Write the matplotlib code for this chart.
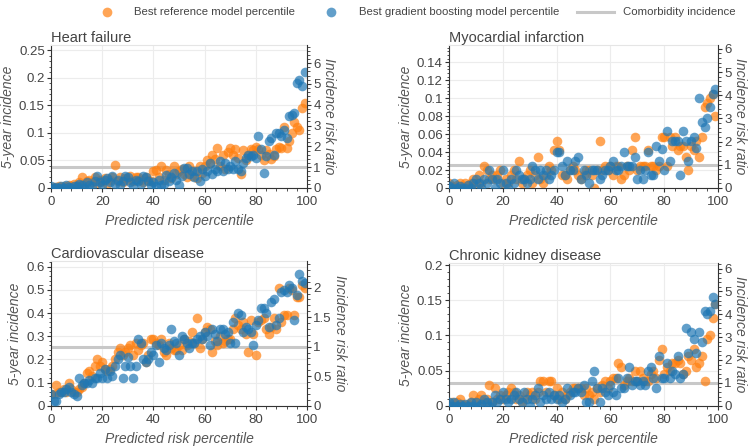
import numpy as np
import matplotlib
matplotlib.use('Agg')
import matplotlib.pyplot as plt
from matplotlib.ticker import MultipleLocator, FuncFormatter
from matplotlib.lines import Line2D

plt.rcParams['font.family'] = ['Liberation Sans', 'DejaVu Sans']

percentile = np.arange(100)

# heart failure
hf_gb = [0.003, 0.0, 0.002, 0.0, 0.003, 0.0, 0.005, 0.002, 0.0, 0.004,
         0.003, 0.008, 0.005, 0.0, 0.01, 0.006, 0.004, 0.012, 0.022, 0.01,
         0.006, 0.014, 0.018, 0.01, 0.022, 0.008, 0.015, 0.005, 0.012, 0.022,
         0.02, 0.01, 0.004, 0.015, 0.012, 0.008, 0.022, 0.02, 0.012, 0.006,
         0.01, 0.003, 0.015, 0.006, 0.008, 0.024, 0.012, 0.02, 0.028, 0.015,
         0.005, 0.022, 0.036, 0.037, 0.025, 0.03, 0.02, 0.03, 0.012, 0.035,
         0.022, 0.03, 0.045, 0.025, 0.035, 0.03, 0.048, 0.03, 0.045, 0.035,
         0.04, 0.035, 0.048, 0.035, 0.03, 0.045, 0.055, 0.06, 0.058, 0.06,
         0.055, 0.095, 0.07, 0.027, 0.058, 0.085, 0.09, 0.06, 0.1, 0.1,
         0.095, 0.105, 0.09, 0.13, 0.132, 0.135, 0.19, 0.195, 0.185, 0.21]
hf_ref = [0.0, 0.002, 0.0, 0.004, 0.0, 0.003, 0.002, 0.006, 0.004, 0.008,
          0.006, 0.01, 0.02, 0.008, 0.012, 0.015, 0.01, 0.02, 0.008, 0.015,
          0.012, 0.018, 0.008, 0.015, 0.02, 0.042, 0.012, 0.02, 0.01, 0.018,
          0.015, 0.022, 0.012, 0.02, 0.02, 0.015, 0.01, 0.02, 0.015, 0.012,
          0.03, 0.032, 0.02, 0.04, 0.015, 0.032, 0.025, 0.018, 0.04, 0.025,
          0.03, 0.035, 0.025, 0.02, 0.04, 0.022, 0.03, 0.018, 0.04, 0.028,
          0.04, 0.05, 0.045, 0.06, 0.052, 0.072, 0.04, 0.06, 0.035, 0.065,
          0.072, 0.06, 0.07, 0.055, 0.025, 0.068, 0.05, 0.06, 0.07, 0.068,
          0.074, 0.07, 0.06, 0.05, 0.068, 0.062, 0.052, 0.058, 0.07, 0.074,
          0.072, 0.11, 0.072, 0.085, 0.1, 0.12, 0.11, 0.105, 0.145, 0.154]

# myocardial infarction
mi_gb = [0.002, 0.0, 0.005, 0.0, 0.002, 0.0, 0.0, 0.003, 0.0, 0.005,
         0.01, 0.005, 0.0, 0.01, 0.005, 0.02, 0.01, 0.0, 0.01, 0.005,
         0.02, 0.005, 0.0, 0.01, 0.005, 0.02, 0.015, 0.01, 0.01, 0.005,
         0.01, 0.025, 0.02, 0.01, 0.02, 0.015, 0.02, 0.01, 0.015, 0.02,
         0.04, 0.04, 0.025, 0.015, 0.03, 0.02, 0.02, 0.03, 0.035, 0.01,
         0.02, 0.015, 0.005, 0.02, 0.02, 0.02, 0.01, 0.015, 0.02, 0.02,
         0.025, 0.03, 0.02, 0.02, 0.025, 0.04, 0.025, 0.025, 0.025, 0.035,
         0.01, 0.02, 0.01, 0.02, 0.04, 0.015, 0.015, 0.047, 0.03, 0.043,
         0.02, 0.063, 0.03, 0.052, 0.052, 0.052, 0.015, 0.063, 0.052, 0.03,
         0.052, 0.057, 0.045, 0.1, 0.073, 0.068, 0.078, 0.09, 0.105, 0.11]
mi_ref = [0.005, 0.002, 0.0, 0.003, 0.005, 0.002, 0.005, 0.003, 0.005, 0.01,
          0.005, 0.015, 0.005, 0.025, 0.02, 0.01, 0.015, 0.01, 0.015, 0.02,
          0.005, 0.01, 0.005, 0.015, 0.02, 0.01, 0.03, 0.005, 0.01, 0.015,
          0.02, 0.005, 0.015, 0.035, 0.01, 0.005, 0.015, 0.025, 0.02, 0.042,
          0.052, 0.042, 0.015, 0.015, 0.01, 0.02, 0.025, 0.02, 0.015, 0.01,
          0.015, 0.02, 0.02, 0.015, 0.0, 0.02, 0.052, 0.02, 0.025, 0.02,
          0.025, 0.015, 0.025, 0.025, 0.01, 0.015, 0.025, 0.02, 0.042, 0.057,
          0.02, 0.025, 0.025, 0.025, 0.042, 0.025, 0.025, 0.02, 0.025, 0.057,
          0.057, 0.025, 0.057, 0.047, 0.057, 0.042, 0.047, 0.047, 0.035, 0.02,
          0.047, 0.042, 0.052, 0.035, 0.057, 0.09, 0.095, 0.1, 0.105, 0.08]

# cardiovascular disease
cvd_gb = [0.05, 0.02, 0.02, 0.05, 0.06, 0.06, 0.07, 0.08, 0.06, 0.05,
          0.04, 0.12, 0.09, 0.1, 0.1, 0.11, 0.1, 0.12, 0.12, 0.14,
          0.12, 0.16, 0.12, 0.15, 0.13, 0.17, 0.2, 0.22, 0.12, 0.17,
          0.21, 0.17, 0.12, 0.17, 0.29, 0.27, 0.2, 0.19, 0.2, 0.23,
          0.22, 0.26, 0.19, 0.27, 0.25, 0.24, 0.26, 0.33, 0.28, 0.27,
          0.22, 0.3, 0.29, 0.27, 0.25, 0.27, 0.27, 0.29, 0.3, 0.29,
          0.32, 0.3, 0.26, 0.33, 0.31, 0.28, 0.33, 0.33, 0.31, 0.32,
          0.27, 0.36, 0.27, 0.4, 0.39, 0.32, 0.34, 0.33, 0.32, 0.26,
          0.35, 0.37, 0.42, 0.42, 0.4, 0.34, 0.45, 0.46, 0.35, 0.38,
          0.49, 0.5, 0.49, 0.52, 0.51, 0.37, 0.48, 0.57, 0.54, 0.53]
cvd_ref = [0.05, 0.05, 0.09, 0.06, 0.06, 0.07, 0.06, 0.1, 0.07, 0.06,
           0.06, 0.07, 0.08, 0.1, 0.14, 0.15, 0.13, 0.17, 0.2, 0.17,
           0.19, 0.16, 0.15, 0.16, 0.17, 0.2, 0.23, 0.25, 0.22, 0.23,
           0.25, 0.26, 0.22, 0.27, 0.24, 0.26, 0.27, 0.19, 0.22, 0.29,
           0.29, 0.27, 0.26, 0.29, 0.23, 0.22, 0.27, 0.25, 0.24, 0.24,
           0.26, 0.24, 0.29, 0.26, 0.28, 0.32, 0.27, 0.38, 0.25, 0.29,
           0.32, 0.34, 0.33, 0.23, 0.28, 0.26, 0.3, 0.27, 0.28, 0.29,
           0.29, 0.33, 0.38, 0.35, 0.33, 0.36, 0.31, 0.23, 0.37, 0.31,
           0.22, 0.36, 0.37, 0.38, 0.33, 0.31, 0.34, 0.38, 0.33, 0.51,
           0.36, 0.39, 0.39, 0.51, 0.5, 0.39, 0.47, 0.47, 0.52, 0.51]

# chronic kidney disease
ckd_gb = [0.005, 0.0, 0.005, 0.0, 0.002, 0.0, 0.003, 0.0, 0.005, 0.0,
          0.005, 0.0, 0.003, 0.01, 0.005, 0.0, 0.005, 0.015, 0.005, 0.01,
          0.02, 0.01, 0.005, 0.01, 0.015, 0.02, 0.01, 0.005, 0.02, 0.01,
          0.0, 0.01, 0.015, 0.025, 0.005, 0.015, 0.01, 0.02, 0.01, 0.015,
          0.01, 0.015, 0.005, 0.01, 0.025, 0.015, 0.02, 0.02, 0.025, 0.02,
          0.03, 0.005, 0.005, 0.035, 0.05, 0.025, 0.005, 0.025, 0.02, 0.015,
          0.03, 0.02, 0.015, 0.04, 0.025, 0.025, 0.04, 0.055, 0.03, 0.035,
          0.035, 0.03, 0.035, 0.03, 0.05, 0.055, 0.04, 0.025, 0.07, 0.04,
          0.04, 0.06, 0.04, 0.05, 0.045, 0.07, 0.04, 0.045, 0.11, 0.075,
          0.105, 0.095, 0.075, 0.105, 0.09, 0.135, 0.13, 0.135, 0.155, 0.145]
ckd_ref = [0.0, 0.005, 0.0, 0.005, 0.01, 0.002, 0.0, 0.003, 0.005, 0.015,
           0.005, 0.01, 0.015, 0.005, 0.01, 0.03, 0.005, 0.025, 0.01, 0.015,
           0.01, 0.015, 0.02, 0.025, 0.02, 0.01, 0.015, 0.005, 0.01, 0.02,
           0.015, 0.02, 0.01, 0.02, 0.035, 0.035, 0.02, 0.035, 0.035, 0.015,
           0.025, 0.01, 0.02, 0.01, 0.015, 0.02, 0.025, 0.025, 0.025, 0.025,
           0.015, 0.025, 0.015, 0.02, 0.01, 0.025, 0.02, 0.03, 0.035, 0.025,
           0.035, 0.04, 0.04, 0.06, 0.055, 0.03, 0.035, 0.04, 0.035, 0.05,
           0.035, 0.05, 0.04, 0.035, 0.035, 0.045, 0.05, 0.04, 0.065, 0.08,
           0.045, 0.055, 0.05, 0.06, 0.06, 0.065, 0.06, 0.045, 0.05, 0.07,
           0.065, 0.08, 0.055, 0.06, 0.07, 0.035, 0.095, 0.1, 0.125, 0.145]

titles = ['Heart failure', 'Myocardial infarction', 'Cardiovascular disease', 'Chronic kidney disease']
baselines = [0.0377, 0.0258, 0.255, 0.0325]
ymax = [0.259, 0.159, 0.625, 0.2024]
ystep = [0.05, 0.02, 0.1, 0.05]
rstep = [1, 1, 0.5, 1]

ORANGE = '#ff7f0e'
BLUE = '#1f77b4'
TXT = '#444444'
AX = '#333333'
LAB = '#555555'

fig = plt.figure(figsize=(7.49, 4.46), dpi=100)
boxes = [[0.0681, 0.5785, 0.3419, 0.3205],
         [0.5995, 0.5785, 0.3591, 0.3205],
         [0.0681, 0.0904, 0.3419, 0.3244],
         [0.5995, 0.0904, 0.3591, 0.3192]]
series = [(hf_gb, hf_ref), (mi_gb, mi_ref), (cvd_gb, cvd_ref), (ckd_gb, ckd_ref)]

fmt = FuncFormatter(lambda v, p: '%g' % round(v, 4))

for i in range(4):
    ax = fig.add_axes(boxes[i])
    gb, ref = series[i]
    base = baselines[i]
    ax.axhline(base, color='#c8c8c8', lw=2.2, zorder=1)
    ax.scatter(percentile, ref, s=48, color=ORANGE, alpha=0.7, lw=0, zorder=2)
    ax.scatter(percentile, gb, s=48, color=BLUE, alpha=0.7, lw=0, zorder=3)
    ax.set_xlim(0, 100)
    ax.set_ylim(0, ymax[i])
    ax.xaxis.set_major_locator(MultipleLocator(20))
    ax.xaxis.set_minor_locator(MultipleLocator(4))
    ax.yaxis.set_major_locator(MultipleLocator(ystep[i]))
    ax.yaxis.set_minor_locator(MultipleLocator(ystep[i] / 5))
    ax.yaxis.set_major_formatter(fmt)
    ax.grid(True, which='major', color='#ececec', lw=0.8)
    ax.set_axisbelow(True)
    for s in ['left', 'bottom']:
        ax.spines[s].set_color(AX)
    ax.spines['top'].set_color('#e5e5e5')
    ax.spines['right'].set_visible(False)
    ax.tick_params(which='major', length=3, width=0.8, color=AX, labelsize=9.5, labelcolor=TXT, pad=1.5)
    ax.tick_params(which='minor', length=1.8, width=0.6, color=AX)
    ax.tick_params(axis='x', which='major', pad=3)
    ax.set_xlabel('Predicted risk percentile', fontsize=10, style='italic', color=LAB, labelpad=4)
    ax.set_ylabel('5-year incidence', fontsize=10, style='italic', color=LAB, labelpad=3)
    ax.set_title(titles[i], loc='left', fontsize=10.5, color=TXT, pad=1, x=0.0)

    # right axis: ratio to comorbidity incidence
    ax2 = ax.twinx()
    ax2.set_ylim(0, ymax[i] / base)
    ax2.yaxis.set_major_locator(MultipleLocator(rstep[i]))
    ax2.yaxis.set_minor_locator(MultipleLocator(rstep[i] / 5))
    ax2.yaxis.set_major_formatter(fmt)
    for s in ['left', 'bottom', 'top']:
        ax2.spines[s].set_visible(False)
    ax2.spines['right'].set_color(AX)
    ax2.tick_params(which='major', length=3, width=0.8, color=AX, labelsize=9.5, labelcolor=TXT, pad=1.5)
    ax2.tick_params(which='minor', length=1.8, width=0.6, color=AX)
    ax2.set_ylabel('Incidence risk ratio', fontsize=10, style='italic', color=LAB, rotation=270, labelpad=11)

handles = [Line2D([], [], ls='', marker='o', ms=7, color=ORANGE, alpha=0.7, mew=0),
           Line2D([], [], ls='', marker='o', ms=7, color=BLUE, alpha=0.7, mew=0),
           Line2D([], [], color='#c8c8c8', lw=2.2)]
labels = ['Best reference model percentile', 'Best gradient boosting model percentile', 'Comorbidity incidence']
leg = fig.legend(handles, labels, loc='center', bbox_to_anchor=(0.55, 0.972), ncol=3, frameon=False,
                 fontsize=8.2, handlelength=3.2, handletextpad=0.8, columnspacing=1.6)
for t in leg.get_texts():
    t.set_color(TXT)

fig.savefig('out.png', dpi=100)
